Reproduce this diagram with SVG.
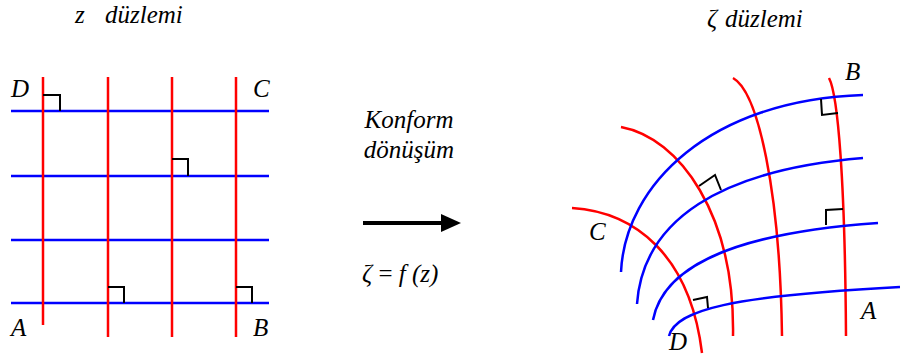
<svg xmlns="http://www.w3.org/2000/svg" width="902" height="357" viewBox="0 0 902 357">
<style>
.t{font-family:"Liberation Serif","Times New Roman","DejaVu Serif",serif;font-style:italic;font-size:25px;fill:#000}
.r{stroke:#ff0000;stroke-width:2.5;fill:none}
.b{stroke:#0000ff;stroke-width:2.5;fill:none}
.m{stroke:#000;stroke-width:2;fill:none}
</style>
<rect width="902" height="357" fill="#fff"/>
<g id="titles">
<text class="t" y="23"><tspan x="75">z</tspan><tspan x="105">düzlemi</tspan></text>
<text class="t" y="27"><tspan x="707">ζ</tspan><tspan x="725">düzlemi</tspan></text>
</g>
<g id="z-plane">
<g id="z-blue">
<line class="b" x1="11" y1="111" x2="269" y2="111"/>
<line class="b" x1="11" y1="176" x2="269" y2="176"/>
<line class="b" x1="11" y1="240" x2="269" y2="240"/>
<line class="b" x1="11" y1="303" x2="269" y2="303"/>
</g>
<g id="z-red">
<line class="r" x1="43" y1="77" x2="43" y2="325"/>
<line class="r" x1="108" y1="77" x2="108" y2="337"/>
<line class="r" x1="172" y1="77" x2="172" y2="337"/>
<line class="r" x1="236" y1="77" x2="236" y2="337"/>
</g>
<g id="z-marks">
<polyline class="m" points="43,95 60,95 60,111"/>
<polyline class="m" points="172,159 188,159 188,176"/>
<polyline class="m" points="108,287 124,287 124,303"/>
<polyline class="m" points="236,287 252,287 252,303"/>
</g>
<g id="z-labels">
<text class="t" x="11" y="97">D</text>
<text class="t" x="253" y="97">C</text>
<text class="t" x="11" y="336">A</text>
<text class="t" x="253" y="336">B</text>
</g>
</g>
<g id="mapping">
<text class="t" x="409" y="128" text-anchor="middle">Konform</text>
<text class="t" x="409" y="158" text-anchor="middle">dönüşüm</text>
<line x1="363" y1="223" x2="443" y2="223" stroke="#000" stroke-width="4"/>
<polygon points="441,214 461,223 441,232" fill="#000"/>
<text class="t" x="362" y="282">ζ <tspan font-style="normal">=</tspan> f (z)</text>
</g>
<g id="zeta-plane">
<g id="zeta-red">
<path class="r" d="M572,208 C635,212 690,255 702,353"/>
<path class="r" d="M621,127 C680,138 735,215 733,336"/>
<path class="r" d="M733,78 C758,92 780,190 782,336"/>
<path class="r" d="M829,78 C838,95 845,180 846,336"/>
</g>
<g id="zeta-blue">
<path class="b" d="M621,272 C625,185 710,100 863,95"/>
<path class="b" d="M637,304 C643,220 720,170 863,158"/>
<path class="b" d="M653,320 C662,272 720,234 878,223"/>
<path class="b" d="M669,336 C676,310 730,296 900,287"/>
</g>
<g id="zeta-marks">
<polyline class="m" points="821,99 822,115 838,113"/>
<polyline class="m" points="699,186 715,175 721,190"/>
<polyline class="m" points="826,225 826,210 843,209"/>
<polyline class="m" points="693,300 707,297 708,308"/>
</g>
<g id="zeta-labels">
<text class="t" x="845" y="80">B</text>
<text class="t" x="861" y="319">A</text>
<text class="t" x="589" y="240">C</text>
<text class="t" x="669" y="350">D</text>
</g>
</g>
</svg>
